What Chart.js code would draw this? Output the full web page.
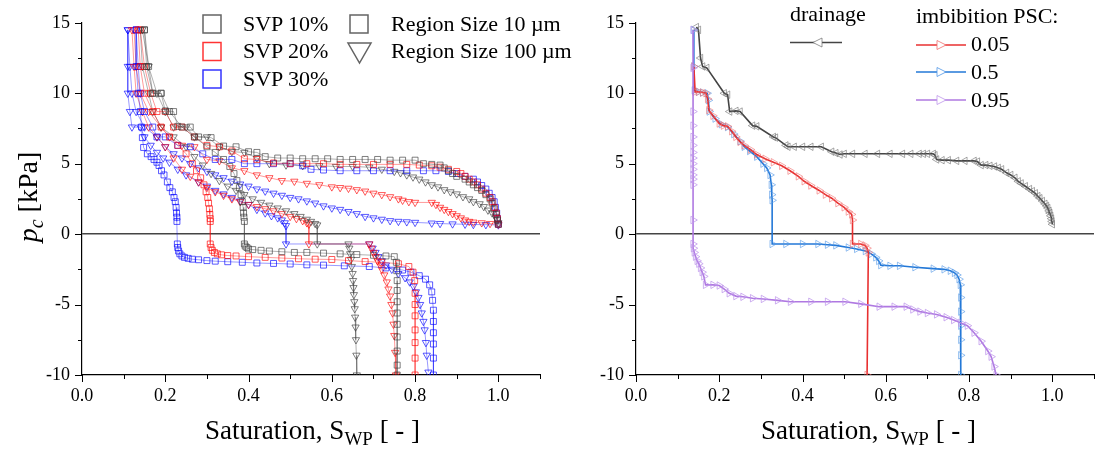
<!DOCTYPE html>
<html lang="en">
<head>
<meta charset="UTF-8">
<title>Capillary pressure - saturation</title>
<style>
  html, body { margin: 0; padding: 0; background: #fff; width: 1098px; height: 450px; overflow: hidden; }
  body { position: relative; font-family: "Liberation Serif", "DejaVu Serif", serif; color: #000; }
  canvas { position: absolute; top: 0; }
  #leftCanvas { left: 0; }
  #rightCanvas { left: 554px; }
  .txt { position: absolute; white-space: nowrap; font-size: 22px; line-height: 22px; }
  .xtitle { position: absolute; top: 417px; text-align: center; font-size: 27px; line-height: 27px; white-space: nowrap; }
  .xtitle sub { font-size: 19px; vertical-align: -6px; line-height: 0; }
  .ytitle { position: absolute; left: -72px; top: 182px; width: 200px; height: 30px; line-height: 30px;
            text-align: center; font-size: 28px; transform: rotate(-90deg); white-space: nowrap; }
  .ytitle sub { font-size: 20px; vertical-align: -6px; line-height: 0; }
  svg.leg { position: absolute; left: 0; top: 0; overflow: visible; }
</style>
<script src="https://cdn.jsdelivr.net/npm/chart.js"></script>
</head>
<body>

<canvas id="leftCanvas" width="550" height="450"></canvas>
<canvas id="rightCanvas" width="550" height="450"></canvas>

<svg class="leg" width="1098" height="120">
  <!-- left legend -->
  <rect x="203" y="15" width="18" height="18" fill="none" stroke="rgba(60,60,60,0.8)" stroke-width="1.5"/>
  <rect x="203" y="42.5" width="18" height="18" fill="none" stroke="rgba(255,0,0,0.8)" stroke-width="1.5"/>
  <rect x="203" y="70" width="18" height="18" fill="none" stroke="rgba(0,0,255,0.8)" stroke-width="1.5"/>
  <rect x="350" y="15" width="18" height="18" fill="none" stroke="rgba(60,60,60,0.8)" stroke-width="1.5"/>
  <polygon points="348,43 371,43 359.5,63" fill="none" stroke="rgba(60,60,60,0.8)" stroke-width="1.5"/>
  <!-- right legend -->
  <line x1="790" y1="42.5" x2="842" y2="42.5" stroke="#444" stroke-width="1.6"/>
  <polygon points="822,38 822,47 813,42.5" fill="#fff" stroke="rgba(110,110,110,0.7)" stroke-width="1"/>
  <line x1="916" y1="45" x2="966" y2="45" stroke="rgb(232,48,48)" stroke-width="1.6"/>
  <polygon points="937,40.5 937,49.5 946,45" fill="#fff" stroke="rgba(240,110,110,0.8)" stroke-width="1"/>
  <line x1="916" y1="72" x2="966" y2="72" stroke="rgb(35,120,215)" stroke-width="1.6"/>
  <polygon points="937,67.5 937,76.5 946,72" fill="#fff" stroke="rgba(80,150,230,0.8)" stroke-width="1"/>
  <line x1="916" y1="100" x2="966" y2="100" stroke="rgb(175,120,225)" stroke-width="1.6"/>
  <polygon points="937,95.5 937,104.5 946,100" fill="#fff" stroke="rgba(190,150,235,0.8)" stroke-width="1"/>
</svg>

<div class="txt" style="left:243px; top:12.6px;">SVP 10%</div>
<div class="txt" style="left:243px; top:40px;">SVP 20%</div>
<div class="txt" style="left:243px; top:67.6px;">SVP 30%</div>
<div class="txt" style="left:391px; top:12.6px;">Region Size 10 µm</div>
<div class="txt" style="left:391px; top:40px;">Region Size 100 µm</div>

<div class="txt" style="left:790px; top:3px;">drainage</div>
<div class="txt" style="left:916px; top:5px;">imbibition PSC:</div>
<div class="txt" style="left:971px; top:33px;">0.05</div>
<div class="txt" style="left:971px; top:61px;">0.5</div>
<div class="txt" style="left:971px; top:89px;">0.95</div>

<div class="ytitle"><i>p<sub>c</sub></i> [kPa]</div>
<div class="xtitle" style="left:82px; width:461px;">Saturation, S<sub>WP</sub> [ - ]</div>
<div class="xtitle" style="left:636px; width:465px;">Saturation, S<sub>WP</sub> [ - ]</div>

<script>
// ---- left panel: [saturation, pc] pairs ----
// SVP 10% (gray), region size 10 um (squares)
const svp10SqDrain = [[1.0,0.7],[0.998,1.0],[0.995,1.4],[0.99,1.8],[0.985,2.2],[0.98,2.5],[0.97,2.8],[0.96,3.1],[0.95,3.3],[0.94,3.5],[0.93,3.7],[0.92,3.9],[0.9,4.1],[0.89,4.3],[0.88,4.5],[0.87,4.7],[0.86,4.9],[0.84,4.95],[0.82,5.0],[0.8,5.25],[0.77,5.25],[0.74,5.25],[0.71,5.3],[0.68,5.3],[0.65,5.3],[0.62,5.3],[0.59,5.35],[0.56,5.35],[0.53,5.35],[0.5,5.4],[0.47,5.4],[0.44,5.5],[0.42,5.8],[0.4,5.85],[0.37,6.2],[0.34,6.25],[0.31,6.85],[0.28,6.9],[0.26,7.6],[0.23,7.65],[0.22,8.7],[0.2,8.75],[0.19,10],[0.17,10],[0.16,11.9],[0.15,14.5]];
const svp10SqImb = [[0.15,14.5],[0.155,11.9],[0.17,10],[0.19,10],[0.21,8.7],[0.24,7.6],[0.27,6.9],[0.3,6.2],[0.32,5.8],[0.34,5.3],[0.355,4.8],[0.365,4.3],[0.372,3.8],[0.378,3.3],[0.382,2.8],[0.385,2.3],[0.387,1.9],[0.388,1.5],[0.389,1.2],[0.39,0.9],[0.39,-0.7],[0.392,-0.85],[0.396,-0.95],[0.4,-1.05],[0.41,-1.1],[0.43,-1.15],[0.45,-1.2],[0.48,-1.25],[0.51,-1.3],[0.54,-1.3],[0.58,-1.35],[0.62,-1.4],[0.66,-1.45],[0.7,-1.5],[0.73,-1.55],[0.75,-1.6],[0.755,-2.0],[0.756,-2.6],[0.757,-3.3],[0.757,-4.0],[0.757,-4.8],[0.757,-5.6],[0.757,-6.4],[0.757,-7.3],[0.757,-8.3],[0.757,-9.3],[0.757,-10]];
// SVP 20% (red), squares
const svp20SqDrain = [[1.0,0.7],[0.998,1.1],[0.995,1.5],[0.99,1.9],[0.985,2.3],[0.98,2.6],[0.97,2.9],[0.96,3.2],[0.95,3.5],[0.94,3.7],[0.93,3.9],[0.92,4.1],[0.91,4.3],[0.9,4.45],[0.88,4.6],[0.86,4.75],[0.84,4.85],[0.81,4.9],[0.78,4.95],[0.74,4.95],[0.7,4.95],[0.66,4.95],[0.62,4.95],[0.58,5.0],[0.54,5.0],[0.5,5.0],[0.46,5.05],[0.42,5.3],[0.39,5.35],[0.36,5.9],[0.33,6.2],[0.3,6.3],[0.27,6.9],[0.24,7.6],[0.22,7.6],[0.2,8.7],[0.18,8.7],[0.165,10],[0.15,11.9],[0.14,14.5]];
const svp20SqImb = [[0.135,14.5],[0.14,11.9],[0.15,10],[0.17,8.7],[0.19,7.6],[0.21,6.9],[0.23,6.3],[0.25,5.7],[0.265,5.0],[0.275,4.5],[0.285,4.0],[0.293,3.5],[0.298,3.0],[0.302,2.6],[0.304,2.2],[0.306,1.8],[0.307,1.4],[0.308,1.1],[0.308,0.9],[0.308,-0.7],[0.31,-0.95],[0.313,-1.15],[0.318,-1.3],[0.325,-1.4],[0.335,-1.47],[0.35,-1.52],[0.37,-1.55],[0.4,-1.6],[0.44,-1.65],[0.48,-1.7],[0.52,-1.75],[0.56,-1.78],[0.6,-1.8],[0.64,-1.88],[0.68,-1.95],[0.72,-2.0],[0.76,-2.1],[0.785,-2.3],[0.795,-2.7],[0.799,-3.3],[0.8,-4.2],[0.8,-5.0],[0.8,-5.8],[0.8,-6.8],[0.8,-7.7],[0.8,-8.8],[0.8,-10]];
// SVP 30% (blue), squares
const svp30SqDrain = [[1.0,0.7],[0.998,1.1],[0.996,1.5],[0.993,1.9],[0.99,2.3],[0.985,2.6],[0.978,2.9],[0.97,3.2],[0.96,3.45],[0.95,3.7],[0.94,3.9],[0.92,4.1],[0.9,4.3],[0.88,4.45],[0.85,4.5],[0.82,4.5],[0.78,4.5],[0.74,4.5],[0.7,4.5],[0.66,4.5],[0.62,4.5],[0.58,4.55],[0.55,4.6],[0.53,4.85],[0.5,5.0],[0.46,5.0],[0.42,5.0],[0.39,5.0],[0.36,5.3],[0.32,5.3],[0.29,5.7],[0.26,6.2],[0.23,6.3],[0.2,6.9],[0.18,6.9],[0.17,7.6],[0.15,8.7],[0.14,10],[0.135,11.9],[0.13,14.5]];
const svp30SqImb = [[0.13,14.5],[0.13,11.9],[0.135,10],[0.14,8.7],[0.143,7.6],[0.145,6.85],[0.148,6.15],[0.157,5.7],[0.166,5.5],[0.173,5.3],[0.18,5.1],[0.185,4.87],[0.191,4.5],[0.197,4.2],[0.205,3.7],[0.211,3.3],[0.217,3.0],[0.221,2.6],[0.224,2.3],[0.226,1.9],[0.227,1.5],[0.228,1.2],[0.228,0.9],[0.229,-0.7],[0.23,-0.95],[0.232,-1.2],[0.235,-1.4],[0.24,-1.55],[0.246,-1.65],[0.255,-1.72],[0.265,-1.78],[0.28,-1.82],[0.3,-1.88],[0.32,-1.92],[0.35,-1.96],[0.385,-2.0],[0.42,-2.05],[0.46,-2.08],[0.5,-2.12],[0.54,-2.18],[0.58,-2.2],[0.63,-2.25],[0.69,-2.3],[0.73,-2.4],[0.77,-2.55],[0.79,-2.7],[0.81,-2.95],[0.825,-3.2],[0.835,-3.6],[0.84,-4.1],[0.842,-4.7],[0.844,-5.4],[0.844,-6.2],[0.844,-7.0],[0.844,-7.8],[0.844,-8.8],[0.844,-10]];
// region size 100 um (down triangles)
const svp10TriDrain = [[1.0,0.8],[0.997,1.0],[0.993,1.25],[0.985,1.5],[0.975,1.7],[0.965,1.95],[0.955,2.15],[0.94,2.3],[0.93,2.5],[0.915,2.65],[0.9,2.85],[0.885,3.0],[0.87,3.15],[0.855,3.35],[0.84,3.5],[0.825,3.7],[0.81,3.9],[0.795,4.05],[0.78,4.2],[0.765,4.35],[0.75,4.45],[0.72,4.6],[0.69,4.75],[0.65,4.8],[0.61,4.8],[0.57,4.85],[0.53,4.85],[0.49,4.9],[0.45,5.0],[0.42,5.4],[0.39,5.8],[0.36,5.85],[0.33,6.2],[0.3,6.9],[0.27,6.9],[0.25,7.6],[0.22,7.6],[0.2,8.7],[0.18,10],[0.16,11.9],[0.145,14.5]];
const svp10TriImb = [[0.14,14.5],[0.145,11.9],[0.16,10],[0.17,8.7],[0.19,7.6],[0.22,6.9],[0.25,6.2],[0.27,5.5],[0.29,4.9],[0.31,4.3],[0.33,3.8],[0.35,3.4],[0.37,3.1],[0.39,2.8],[0.41,2.5],[0.43,2.25],[0.45,2.05],[0.47,1.85],[0.49,1.65],[0.51,1.45],[0.525,1.25],[0.54,1.05],[0.55,0.9],[0.56,0.75],[0.565,0.65],[0.565,-0.7],[0.64,-0.7],[0.642,-1.0],[0.644,-1.4],[0.646,-1.8],[0.648,-2.3],[0.65,-2.8],[0.651,-3.3],[0.652,-3.8],[0.653,-4.3],[0.654,-4.8],[0.655,-5.3],[0.656,-5.9],[0.657,-6.6],[0.658,-7.5],[0.659,-8.6],[0.66,-10]];
const svp20TriDrain = [[1.0,0.7],[0.98,0.75],[0.96,0.8],[0.94,0.85],[0.93,0.9],[0.92,1.0],[0.91,1.15],[0.9,1.3],[0.89,1.45],[0.88,1.6],[0.87,1.75],[0.86,1.9],[0.85,2.1],[0.84,2.25],[0.8,2.25],[0.785,2.3],[0.77,2.4],[0.76,2.5],[0.74,2.65],[0.72,2.8],[0.7,2.9],[0.68,3.05],[0.66,3.15],[0.64,3.25],[0.62,3.3],[0.6,3.35],[0.57,3.5],[0.54,3.6],[0.51,3.75],[0.48,3.8],[0.45,4.0],[0.42,4.2],[0.39,4.5],[0.36,4.7],[0.33,5.2],[0.3,5.3],[0.27,6.2],[0.24,6.3],[0.21,6.9],[0.19,7.6],[0.16,8.7],[0.14,10],[0.13,11.9],[0.125,14.5]];
const svp20TriImb = [[0.12,14.5],[0.125,11.9],[0.13,10],[0.145,8.7],[0.16,7.6],[0.18,6.9],[0.2,6.2],[0.22,5.4],[0.24,4.6],[0.26,4.1],[0.28,3.7],[0.3,3.3],[0.32,3.0],[0.34,2.75],[0.36,2.5],[0.38,2.3],[0.4,2.1],[0.42,1.95],[0.44,1.8],[0.46,1.65],[0.48,1.45],[0.5,1.25],[0.515,1.1],[0.53,0.95],[0.54,0.8],[0.545,0.7],[0.545,-0.7],[0.69,-0.7],[0.695,-1.0],[0.7,-1.3],[0.705,-1.6],[0.71,-1.9],[0.716,-2.2],[0.72,-2.5],[0.726,-2.9],[0.732,-3.4],[0.736,-3.9],[0.74,-4.4],[0.743,-5.0],[0.746,-5.6],[0.748,-6.4],[0.75,-7.2],[0.752,-8.4],[0.754,-10]];
const svp30TriDrain = [[1.0,0.65],[0.97,0.67],[0.94,0.68],[0.92,0.7],[0.89,0.72],[0.86,0.75],[0.84,0.78],[0.8,0.83],[0.78,0.87],[0.76,0.9],[0.74,0.95],[0.72,1.05],[0.7,1.15],[0.68,1.25],[0.66,1.45],[0.64,1.6],[0.62,1.75],[0.6,1.85],[0.58,2.0],[0.56,2.2],[0.54,2.35],[0.52,2.5],[0.5,2.6],[0.48,2.75],[0.46,2.9],[0.44,3.05],[0.42,3.2],[0.4,3.4],[0.38,3.55],[0.36,3.75],[0.34,4.0],[0.32,4.2],[0.3,4.45],[0.28,4.7],[0.26,5.0],[0.24,5.4],[0.22,5.7],[0.2,6.2],[0.18,6.9],[0.15,7.6],[0.13,8.7],[0.12,10],[0.115,11.9],[0.11,14.5]];
const svp30TriImb = [[0.11,14.5],[0.11,11.9],[0.11,10],[0.115,8.7],[0.12,7.6],[0.14,7.6],[0.15,6.9],[0.165,6.3],[0.18,5.8],[0.195,5.4],[0.21,5.1],[0.23,4.6],[0.25,4.2],[0.28,3.7],[0.3,3.4],[0.32,3.1],[0.34,2.85],[0.36,2.6],[0.38,2.35],[0.4,2.1],[0.42,1.75],[0.44,1.5],[0.455,1.3],[0.47,1.15],[0.48,1.0],[0.487,0.8],[0.49,0.6],[0.49,-0.7],[0.69,-0.7],[0.698,-1.0],[0.705,-1.3],[0.712,-1.6],[0.72,-1.9],[0.73,-2.2],[0.744,-2.5],[0.76,-2.8],[0.776,-3.1],[0.787,-3.4],[0.796,-3.7],[0.802,-4.1],[0.808,-4.5],[0.812,-5.0],[0.816,-5.6],[0.82,-6.2],[0.823,-6.8],[0.826,-7.7],[0.828,-8.6],[0.832,-9.8]];

// ---- right panel ----
const drainage = [[1.0,0.7],[0.999,0.9],[0.998,1.1],[0.996,1.3],[0.994,1.5],[0.992,1.65],[0.989,1.85],[0.986,2.0],[0.982,2.15],[0.976,2.35],[0.97,2.55],[0.965,2.7],[0.959,2.9],[0.952,3.05],[0.945,3.2],[0.935,3.4],[0.925,3.6],[0.918,3.75],[0.91,4.0],[0.9,4.2],[0.89,4.35],[0.878,4.6],[0.87,4.7],[0.861,4.8],[0.85,4.85],[0.84,4.9],[0.829,4.9],[0.82,5.15],[0.812,5.2],[0.79,5.2],[0.77,5.2],[0.75,5.25],[0.735,5.25],[0.722,5.3],[0.718,5.6],[0.714,5.7],[0.7,5.7],[0.69,5.7],[0.68,5.7],[0.66,5.7],[0.64,5.7],[0.61,5.7],[0.58,5.7],[0.55,5.7],[0.52,5.7],[0.5,5.7],[0.49,5.65],[0.48,5.75],[0.47,5.85],[0.445,6.2],[0.42,6.2],[0.4,6.2],[0.38,6.2],[0.365,6.2],[0.36,6.3],[0.335,6.85],[0.33,6.9],[0.29,7.65],[0.28,7.7],[0.25,8.7],[0.24,8.75],[0.225,8.7],[0.22,9.9],[0.212,10.0],[0.17,11.8],[0.16,11.9],[0.155,12.5],[0.15,14.5],[0.145,14.7]];
const imbPsc005 = [[0.139,11.9],[0.142,10.1],[0.15,10.1],[0.16,10.05],[0.168,10.0],[0.172,9.6],[0.175,8.8],[0.185,8.4],[0.2,7.85],[0.21,7.7],[0.22,7.65],[0.23,7.3],[0.24,6.9],[0.25,6.55],[0.26,6.3],[0.275,6.0],[0.29,5.65],[0.31,5.35],[0.33,5.1],[0.35,4.85],[0.37,4.5],[0.39,4.1],[0.404,3.75],[0.42,3.45],[0.44,3.1],[0.455,2.8],[0.47,2.55],[0.485,2.2],[0.5,1.9],[0.51,1.6],[0.518,1.4],[0.52,1.0],[0.52,-0.7],[0.54,-0.7],[0.55,-0.8],[0.555,-1.0],[0.558,-1.3],[0.555,-10]];
const imbPsc05 = [[0.138,14.5],[0.139,11.9],[0.14,10.2],[0.15,10.1],[0.16,10.05],[0.171,10.0],[0.174,9.5],[0.176,8.7],[0.19,8.2],[0.205,7.8],[0.22,7.6],[0.235,7.1],[0.25,6.6],[0.26,6.2],[0.273,5.9],[0.29,5.5],[0.305,5.0],[0.314,4.7],[0.322,4.2],[0.325,3.5],[0.326,2.8],[0.327,2.4],[0.327,-0.7],[0.36,-0.7],[0.4,-0.7],[0.437,-0.7],[0.46,-0.75],[0.48,-0.8],[0.51,-0.95],[0.53,-1.05],[0.551,-1.2],[0.565,-1.4],[0.576,-1.65],[0.583,-1.9],[0.588,-2.2],[0.61,-2.25],[0.633,-2.25],[0.67,-2.35],[0.714,-2.45],[0.74,-2.5],[0.755,-2.6],[0.765,-2.75],[0.771,-2.9],[0.776,-3.2],[0.779,-3.6],[0.78,-4.5],[0.78,-5.5],[0.78,-6.5],[0.78,-7.5],[0.78,-8.6],[0.78,-10]];
const imbPsc095 = [[0.137,14.5],[0.137,11.8],[0.137,8.7],[0.137,7.7],[0.137,6.9],[0.137,6.3],[0.137,5.8],[0.137,5.4],[0.137,5.0],[0.137,4.6],[0.137,4.2],[0.137,3.9],[0.137,3.5],[0.137,1.0],[0.137,-0.7],[0.138,-1.0],[0.14,-1.3],[0.143,-1.6],[0.147,-1.9],[0.151,-2.1],[0.155,-2.4],[0.159,-2.7],[0.163,-3.0],[0.167,-3.6],[0.185,-3.6],[0.2,-3.65],[0.212,-3.9],[0.224,-4.2],[0.24,-4.4],[0.257,-4.45],[0.28,-4.55],[0.306,-4.6],[0.34,-4.7],[0.371,-4.8],[0.42,-4.8],[0.46,-4.8],[0.502,-4.8],[0.54,-4.95],[0.584,-5.15],[0.62,-5.15],[0.649,-5.15],[0.665,-5.35],[0.682,-5.5],[0.7,-5.6],[0.722,-5.7],[0.745,-5.9],[0.763,-6.1],[0.78,-6.3],[0.796,-6.5],[0.812,-7.0],[0.829,-7.6],[0.845,-8.3],[0.853,-8.7],[0.86,-9.4],[0.865,-10]];

const xTicksMax = 1.1;
const yMin = -10, yMax = 15;

const gray = a => 'rgba(60,60,60,' + a + ')';
const red = a => 'rgba(255,0,0,' + a + ')';
const blue = a => 'rgba(0,0,255,' + a + ')';

function toXY(arr) { return arr.map(p => ({ x: p[0], y: p[1] })); }

function leftSet(arr, col, style) {
  return {
    data: toXY(arr),
    borderColor: col(0.4),
    borderWidth: 1,
    pointStyle: style,
    pointRotation: style === 'triangle' ? 180 : 0,
    pointRadius: 4.2,
    pointBorderColor: col(0.65),
    pointBackgroundColor: 'rgba(0,0,0,0)',
    pointBorderWidth: 1
  };
}

function rightSet(arr, line, marker, rot) {
  return {
    data: toXY(arr),
    borderColor: line,
    borderWidth: 1.6,
    pointStyle: 'triangle',
    pointRotation: rot,
    pointRadius: 4.3,
    pointBorderColor: marker,
    pointBackgroundColor: 'rgba(0,0,0,0)',
    pointBorderWidth: 1
  };
}

// outward major/minor tick marks
const tickMarks = {
  id: 'tickMarks',
  afterDraw(chart) {
    const ctx = chart.ctx, xs = chart.scales.x, ys = chart.scales.y;
    ctx.save();
    ctx.strokeStyle = '#000';
    ctx.lineWidth = 1;
    ctx.beginPath();
    xs.ticks.forEach(t => {
      const px = Math.round(xs.getPixelForValue(t.value)) + 0.5;
      const major = Math.round(t.value * 10) % 2 === 0;
      ctx.moveTo(px, xs.top);
      ctx.lineTo(px, xs.top + (major ? 7 : 4));
    });
    ys.ticks.forEach(t => {
      const py = Math.round(ys.getPixelForValue(t.value)) + 0.5;
      const major = Math.abs(t.value % 5) < 1e-6;
      ctx.moveTo(ys.right, py);
      ctx.lineTo(ys.right - (major ? 7 : 4), py);
    });
    ctx.stroke();
    ctx.restore();
  }
};

function makeOptions(rightPad) {
  const font = { family: "'Liberation Serif', 'Times New Roman', serif", size: 18 };
  return {
    responsive: false,
    animation: false,
    devicePixelRatio: 1,
    layout: { autoPadding: false, padding: { left: 0, top: 19, right: rightPad, bottom: 0 } },
    plugins: { legend: { display: false }, tooltip: { enabled: false } },
    scales: {
      x: {
        type: 'linear', min: 0, max: xTicksMax,
        afterFit: s => { s.height = 75; },
        ticks: {
          stepSize: 0.1, autoSkip: false, maxRotation: 0, padding: 10, color: '#000', font: font,
          callback: v => (Math.round(v * 10) % 2 === 0 && v <= 1.0001) ? v.toFixed(1) : ''
        },
        grid: { drawOnChartArea: false, drawTicks: false },
        border: { display: true, color: '#000', width: 1.2 }
      },
      y: {
        type: 'linear', min: yMin, max: yMax,
        afterFit: s => { s.width = 82; },
        ticks: {
          stepSize: 2.5, autoSkip: false, padding: 12, color: '#000', font: font,
          callback: v => (Math.abs(v % 5) < 1e-6) ? String(v) : ''
        },
        grid: {
          drawTicks: false,
          lineWidth: 1.6,
          color: c => (c.tick && c.tick.value === 0) ? '#444' : 'rgba(0,0,0,0)'
        },
        border: { display: true, color: '#000', width: 1.2 }
      }
    }
  };
}

const leftChart = new Chart(document.getElementById('leftCanvas'), {
  type: 'line',
  data: {
    datasets: [
      leftSet(svp10SqDrain, gray, 'rect'),
      leftSet(svp10SqImb, gray, 'rect'),
      leftSet(svp20SqDrain, red, 'rect'),
      leftSet(svp20SqImb, red, 'rect'),
      leftSet(svp30SqDrain, blue, 'rect'),
      leftSet(svp30SqImb, blue, 'rect'),
      leftSet(svp10TriDrain, gray, 'triangle'),
      leftSet(svp10TriImb, gray, 'triangle'),
      leftSet(svp20TriDrain, red, 'triangle'),
      leftSet(svp20TriImb, red, 'triangle'),
      leftSet(svp30TriDrain, blue, 'triangle'),
      leftSet(svp30TriImb, blue, 'triangle')
    ]
  },
  options: makeOptions(7),
  plugins: [tickMarks]
});

const rightChart = new Chart(document.getElementById('rightCanvas'), {
  type: 'line',
  data: {
    datasets: [
      rightSet(imbPsc095, 'rgb(175,120,225)', 'rgba(190,150,235,0.75)', 90),
      rightSet(imbPsc005, 'rgb(232,48,48)', 'rgba(240,110,110,0.6)', 90),
      rightSet(imbPsc05, 'rgb(35,120,215)', 'rgba(80,150,230,0.6)', 90),
      rightSet(drainage, '#444', 'rgba(110,110,110,0.6)', -90)
    ]
  },
  options: makeOptions(3),
  plugins: [tickMarks]
});

// redraw once fonts are ready so tick labels use the serif face
if (document.fonts && document.fonts.ready) {
  document.fonts.ready.then(() => { leftChart.update(); rightChart.update(); });
}
</script>
</body>
</html>
